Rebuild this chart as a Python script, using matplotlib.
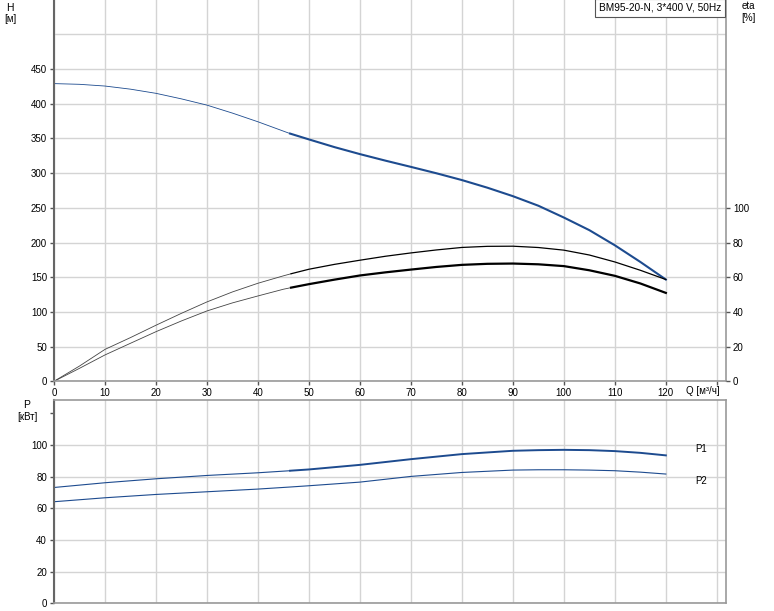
import numpy as np
import matplotlib.pyplot as plt

plt.rcParams['font.family'] = ['Liberation Sans', 'DejaVu Sans']
plt.rcParams['font.size'] = 7

# head curve H [m]
q_h = [0, 5, 10, 15, 20, 25, 30, 35, 40, 46.3, 50, 55, 60, 65, 70, 75, 80, 85, 90, 95,
       100, 105, 110, 115, 120]
h = [429, 428, 425.5, 421, 415, 407, 398, 386.5, 374, 357, 348.6, 337.5, 327.4, 318,
     309, 299.8, 290, 279, 266.8, 253, 236, 217.8, 196, 172, 146.7]

# efficiency curves, read on the H scale (eta = 0.4 * H)
q_eta = [0, 5, 10, 15, 20, 25, 30, 35, 40, 45, 46.5, 50, 55, 60, 65, 70, 75, 80, 85, 90,
         95, 100, 105, 110, 115, 120]
eta_upper = [0, 22, 46, 63, 80.8, 98, 114.4, 128.8, 141.3, 152, 155, 161.5, 168.5, 174.5,
             180.2, 185, 189.3, 192.9, 194.5, 194.7, 192.8, 189, 182, 172, 160, 146.7]
eta_lower = [0, 18.7, 38, 54.8, 71.5, 87, 101.4, 113, 123, 132.7, 135, 140, 146.5, 152.5,
             157, 161, 164.8, 167.8, 169.3, 169.7, 168.6, 166, 160, 152, 141, 127.4]

# power curves P1 / P2 [kW]
q_p = [0, 10, 20, 30, 40, 46.3, 50, 60, 70, 80, 90, 95, 100, 105, 110, 115, 120]
p1 = [73.2, 76.2, 78.7, 80.8, 82.5, 83.8, 84.6, 87.5, 91.1, 94.3, 96.4, 96.8, 97.0, 96.8,
      96.2, 95.1, 93.5]
p2 = [64.2, 66.7, 68.8, 70.5, 72.2, 73.5, 74.3, 76.6, 80.2, 82.7, 84.2, 84.4, 84.4, 84.2,
      83.8, 82.9, 81.7]

blue = '#1d4b8f'
grid_c = '#d4d4d4'


def split(q, y, at):
    q = np.array(q, float)
    y = np.array(y, float)
    return (q[q <= at], y[q <= at]), (q[q >= at], y[q >= at])


fig = plt.figure(figsize=(7.74, 6.11), dpi=100)
W, H = 774, 611
ax = fig.add_axes([54 / W, (H - 381.3) / H, (726 - 54) / W, 381.3 / H])
axp = fig.add_axes([54 / W, (H - 603.3) / H, (726 - 54) / W, (603.3 - 400) / H])

xmax = 131.8
for a in (ax, axp):
    a.set_xlim(0, xmax)
    a.set_xticks(np.arange(0, 131, 10))
    a.grid(True, which='major', color=grid_c, linewidth=1)
    a.set_axisbelow(True)
    a.tick_params(which='both', length=3, width=1, color='#555555', pad=2)
    a.spines['left'].set_color('#666666')
    a.spines['left'].set_linewidth(1.5)
    for s in ('bottom', 'right', 'top'):
        a.spines[s].set_color('#999999')
        a.spines[s].set_linewidth(1.2)

# top chart
ax.set_ylim(0, 549.5)
ax.set_yticks(np.arange(0, 451, 50))
ax.axhline(500, color=grid_c, linewidth=1, zorder=0)
ax.spines['top'].set_visible(False)
ax.set_xticklabels([str(v) if v <= 120 else '' for v in range(0, 131, 10)])

(h1, h2) = split(q_h, h, 46.3)
ax.plot(*h1, color=blue, linewidth=0.6)
ax.plot(*h2, color=blue, linewidth=1.5)
(e1, e2) = split(q_eta, eta_upper, 46.5)
ax.plot(*e1, color='#444444', linewidth=0.6)
ax.plot(*e2, color='black', linewidth=0.9)
(e1, e2) = split(q_eta, eta_lower, 46.5)
ax.plot(*e1, color='#444444', linewidth=0.6)
ax.plot(*e2, color='black', linewidth=1.6)

ax2 = ax.twinx()
ax2.set_ylim(0, 549.5 * 0.4)
ax2.set_yticks(np.arange(0, 101, 20))
ax2.tick_params(length=3, width=1, color='#555555', pad=2)
for s in ax2.spines.values():
    s.set_visible(False)

fig.text(10 / W, 1 - 8 / H, 'H', ha='center', va='center', fontsize=7.5)
fig.text(10 / W, 1 - 19 / H, '[м]', ha='center', va='center')
fig.text(748 / W, 1 - 6 / H, 'eta', ha='center', va='center')
fig.text(748 / W, 1 - 18 / H, '[%]', ha='center', va='center')
fig.text(686 / W, 1 - 391 / H, 'Q [м³/ч]', ha='left', va='center')
fig.text(660 / W, 1 - 8 / H, 'BM95-20-N, 3*400 V, 50Hz', ha='center', va='center',
         fontsize=7.3,
         bbox=dict(boxstyle='square,pad=0.4', facecolor='white', edgecolor='#555555',
                   linewidth=0.8))

# bottom chart
axp.set_ylim(0, 128.5)
axp.set_yticks(np.arange(0, 101, 20))
axp.set_yticks([120], minor=True)
axp.tick_params(axis='x', length=0, labelbottom=False)

(a1, a2) = split(q_p, p1, 46.3)
axp.plot(*a1, color=blue, linewidth=0.8)
axp.plot(*a2, color=blue, linewidth=1.4)
axp.plot(q_p, p2, color=blue, linewidth=0.8)
axp.text(127, 97.5, 'P1', ha='center', va='center')
axp.text(127, 77.5, 'P2', ha='center', va='center')

fig.text(27 / W, 1 - 405 / H, 'P', ha='center', va='center', fontsize=7.5)
fig.text(27 / W, 1 - 417 / H, '[кВт]', ha='center', va='center')

fig.savefig('out.png', dpi=100)
